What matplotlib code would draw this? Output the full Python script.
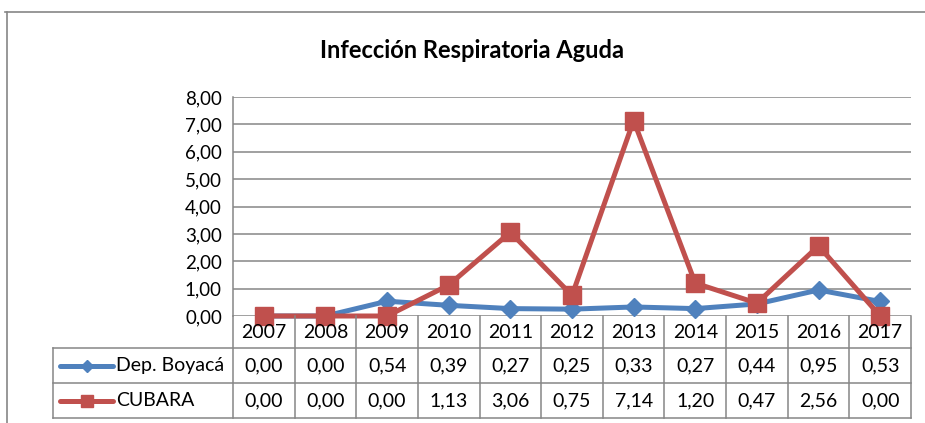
import matplotlib.pyplot as plt
from matplotlib.lines import Line2D

plt.rcParams['font.family'] = ['Lato', 'DejaVu Sans']

anios = ['2007', '2008', '2009', '2010', '2011', '2012', '2013', '2014', '2015', '2016', '2017']
boyaca = [0.00, 0.00, 0.54, 0.39, 0.27, 0.25, 0.33, 0.27, 0.44, 0.95, 0.53]
cubara = [0.00, 0.00, 0.00, 1.13, 3.06, 0.75, 7.14, 1.20, 0.47, 2.56, 0.00]
series = [('Dep. Boyacá', boyaca, '#4F81BD', 'D', 9),
          ('CUBARA', cubara, '#C0504D', 's', 13)]

W, H = 925, 423
gris = '#868686'

fig = plt.figure(figsize=(W / 100, H / 100), dpi=100)

# marco del grafico
fig.add_artist(Line2D([5 / W, 1], [1 - 12 / H] * 2, color=gris, lw=1.2))
fig.add_artist(Line2D([7 / W] * 2, [0, 1 - 12 / H], color=gris, lw=1.2))

fig.text(472 / W, 1 - 50 / H, 'Infección Respiratoria Aguda',
         ha='center', va='center', fontsize=17, fontweight='bold')

# area de trazado
x0, x1, ytop, y0 = 233, 911, 97, 316
ax = fig.add_axes([x0 / W, 1 - y0 / H, (x1 - x0) / W, (y0 - ytop) / H])
n = len(anios)
x = list(range(n))
for nombre, vals, color, mk, ms in series:
    ax.plot(x, vals, color=color, lw=3.6, marker=mk, ms=ms,
            clip_on=False, zorder=3)
ax.set_xlim(-0.5, n - 0.5)
ax.set_ylim(0, 8)
ax.set_yticks(range(0, 9))
ax.set_yticklabels([f'{v:.2f}'.replace('.', ',') for v in range(0, 9)], fontsize=13.5)
ax.tick_params(axis='y', length=0, pad=8)
ax.set_xticks([])
ax.grid(axis='y', color=gris, lw=1.1)
for s in ['top', 'right', 'bottom']:
    ax.spines[s].set_visible(False)
ax.spines['left'].set_color(gris)
ax.spines['left'].set_linewidth(1.1)

# tabla de datos
tx0, ty1 = 53, 418
col = (x1 - x0) / n
leg_w = (x0 - tx0) / col
tab = fig.add_axes([tx0 / W, 1 - ty1 / H, (x1 - tx0) / W, (ty1 - y0) / H])
tab.set_xlim(-0.5 - leg_w, n - 0.5)
tab.set_ylim(ty1 - y0, 0)
tab.axis('off')

filas = [0, 32, 67, 102]
for yy in filas[1:]:
    tab.plot([-0.5 - leg_w, n - 0.5], [yy, yy], color=gris, lw=1.1, clip_on=False)
tab.plot([-0.5 - leg_w] * 2, [filas[1], filas[3]], color=gris, lw=1.1, clip_on=False)
for k in range(n + 1):
    tab.plot([k - 0.5] * 2, [0, filas[3]], color=gris, lw=1.1, clip_on=False)

for i, a in enumerate(anios):
    tab.text(i, (filas[0] + filas[1]) / 2 + 1, a, ha='center', va='center', fontsize=14)

for r, (nombre, vals, color, mk, ms) in enumerate(series):
    yc = (filas[r + 1] + filas[r + 2]) / 2
    for i, v in enumerate(vals):
        tab.text(i, yc, f'{v:.2f}'.replace('.', ','), ha='center', va='center', fontsize=14)
    # clave de leyenda, con marcador algo mas pequeno
    xa = -0.5 - leg_w
    tab.plot([xa + 7 / col, xa + 60 / col], [yc, yc], color=color, lw=3.6,
             solid_capstyle='round', clip_on=False)
    tab.plot([xa + 34 / col], [yc], color=color, marker=mk, ms=ms * 0.7, clip_on=False)
    tab.text(xa + 63 / col, yc, nombre, ha='left', va='center', fontsize=14)

fig.savefig('out.png', dpi=100)
